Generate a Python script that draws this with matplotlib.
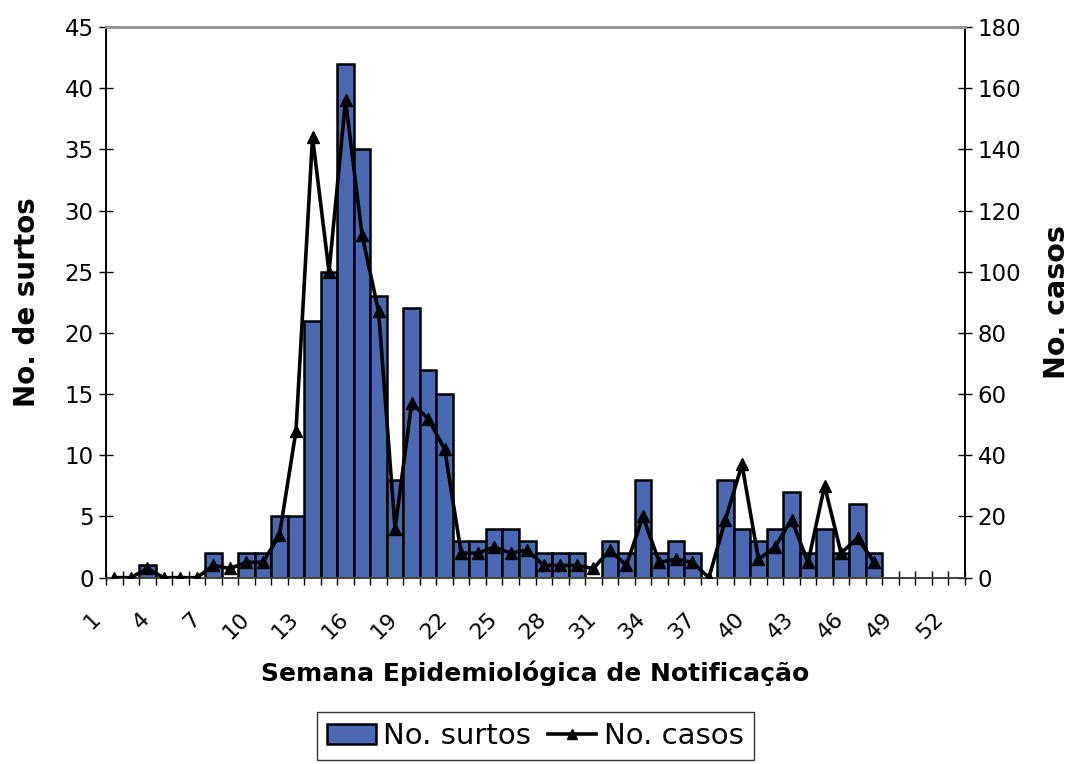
import matplotlib
matplotlib.use("Agg")
import matplotlib.pyplot as plt
import matplotlib.transforms as mtransforms
from matplotlib.lines import Line2D
from matplotlib.patches import Patch
import numpy as np

weeks = list(range(1, 53))
surtos = [0, 0, 1, 0, 0, 0, 2, 0, 2, 2,
          5, 5, 21, 25, 42, 35, 23, 8, 22, 17,
          15, 3, 3, 4, 4, 3, 2, 2, 2, 0,
          3, 2, 8, 2, 3, 2, 0, 8, 4, 3,
          4, 7, 2, 4, 2, 6, 2, 0, 0, 0,
          0, 0]
casos = [0, 0, 3, 0, 0, 0, 4, 3, 5, 5,
         14, 48, 144, 100, 156, 112, 87, 16, 57, 52,
         42, 8, 8, 10, 8, 9, 4, 4, 4, 3,
         9, 4, 20, 5, 6, 5, 0, 19, 37, 6,
         10, 19, 5, 30, 8, 13, 5, None, None, None,
         None, None]
label_weeks = list(range(1, 53, 3))
xtick_labels = [str(w) for w in label_weeks]

plt.rcParams['font.family'] = ['DejaVu Sans']
fig = plt.figure(figsize=(10.71, 7.64), dpi=100)
ax = fig.add_axes([0.099, 0.2439, 0.802, 0.7208])
ax2 = ax.twinx()

x = np.arange(len(weeks))
ax.bar(x, surtos, width=1.0, color='#4a69b2', edgecolor='black', linewidth=1.8, zorder=2)
casos_arr = np.array([np.nan if v is None else v for v in casos], dtype=float)
ax2.plot(x, casos_arr, color='black', linewidth=2.6, marker='^', markersize=8, zorder=3)

ax.set_xlim(-0.5, 51.5)
ax.set_ylim(0, 45)
ax2.set_ylim(0, 180)
ax.set_yticks(range(0, 46, 5))
ax2.set_yticks(range(0, 181, 20))

ax.set_xticks(np.arange(-0.5, 52, 1))
ax.set_xticklabels([])
ax.tick_params(axis='x', direction='inout', length=10, width=1, color='black')
offset = mtransforms.ScaledTranslation(-17/100, -38/100, fig.dpi_scale_trans)
trans = ax.get_xaxis_transform() + offset
for w, lab in zip(label_weeks, xtick_labels):
    ax.text(w - 1, 0, lab, transform=trans, rotation=45, rotation_mode='anchor',
            ha='right', va='center', fontsize=16)

ax.tick_params(axis='y', direction='inout', length=10, width=1, labelsize=16.5, pad=4)
ax2.tick_params(axis='y', direction='inout', length=10, width=1, labelsize=16.5, pad=4)

for a in (ax, ax2):
    a.spines['top'].set_color('#999999')
    a.spines['top'].set_linewidth(2)
    a.spines['left'].set_linewidth(1.2)
    a.spines['right'].set_linewidth(1.2)
    a.spines['bottom'].set_linewidth(1.2)
    a.spines['bottom'].set_color('#444444')

ax.set_ylabel('No. de surtos', fontsize=20, fontweight='bold', labelpad=17)
ax2.set_ylabel('No. casos', fontsize=20.5, fontweight='bold', rotation=90, labelpad=16)
ax.set_xlabel('Semana Epidemiológica de Notificação', fontsize=18, fontweight='bold', labelpad=51)

handles = [Patch(facecolor='#4a69b2', edgecolor='black', linewidth=1.8),
           Line2D([0], [0], color='black', linewidth=2.6, marker='^', markersize=7)]
leg = fig.legend(handles, ['No. surtos', 'No. casos'], loc='lower center',
                 bbox_to_anchor=(0.5, -0.003), ncol=2, fontsize=21, frameon=True,
                 fancybox=False, edgecolor='black', handlelength=1.65, handletextpad=0.25,
                 columnspacing=0.6, borderpad=0.35, borderaxespad=0.2)
leg.get_frame().set_linewidth(1.0)

fig.savefig('out.png', dpi=100)
